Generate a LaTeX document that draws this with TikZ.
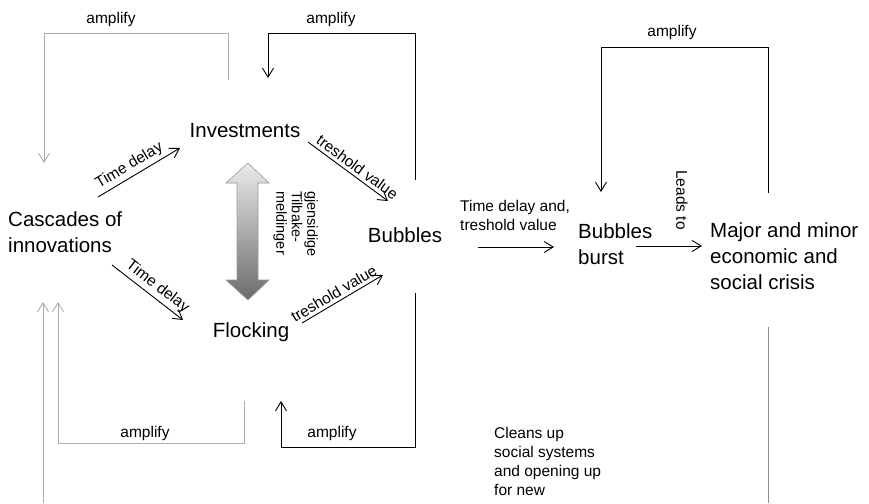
\documentclass[tikz,border=0pt]{standalone}
\usepackage{fontspec}
\setmainfont{Liberation Sans}
\usetikzlibrary{arrows.meta}
\definecolor{loopgray}{gray}{0.68}
\definecolor{endgray}{gray}{0.55}
\tikzset{
  flow/.style={-{Straight Barb[length=9pt,width=11pt]},line width=0.9pt},
  plain/.style={line width=0.9pt},
  big/.style={inner sep=0pt,font=\fontsize{20.5}{26}\selectfont},
  small/.style={inner sep=0pt,font=\fontsize{15.5}{19}\selectfont},
  lbl/.style={inner sep=3pt,font=\fontsize{15.5}{19}\selectfont},
}
\begin{document}
\begin{tikzpicture}[x=1pt,y=-1pt]
\useasboundingbox (0,0) rectangle (869,503);
% concepts
\node[big,anchor=north west,align=left] (casc) at (8,211) {Cascades of\\innovations};
\node[big,anchor=base] (inv) at (245,137) {Investments};
\node[big,anchor=base] (flock) at (251,337) {Flocking};
\node[big,anchor=base] (bub) at (405,242) {Bubbles};
\node[big,anchor=north west,align=left] (burst) at (578,223) {Bubbles\\burst};
\node[big,anchor=north west,align=left] (crisis) at (710,222) {Major and minor\\economic and\\social crisis};
% free texts
\node[small,anchor=north west,align=left] (delay) at (460,200) {Time delay and,\\treshold value};
\node[small,anchor=north west,align=left] (clean) at (494,427) {Cleans up\\social systems\\and opening up\\for new};
\node[small,anchor=north west,align=left,rotate=-90,font=\fontsize{14.5}{15.5}\selectfont] (mutual) at (318,191) {gjensidige\\Tilbake-\\meldinger};
\node[small,rotate=-90] (leads) at (682,200) {Leads to};
\foreach \n/\x/\y in {amp1/111/24,amp2/331/24,amp3/672/37,amp4/145/437,amp5/332/437}
  \node[small,anchor=base] (\n) at (\x,\y) {amplify};
% mutual feedback arrow
\shade[top color=black!8,bottom color=black!58,draw=black!40,line width=0.6pt]
  (248,163) -- (269,183) -- (258,183) -- (258,280) -- (269,280) -- (248,300)
  -- (226,280) -- (237,280) -- (237,183) -- (226,183) -- cycle;
% arrow ends
\coordinate (ci1) at (98,197);   \coordinate (ci2) at (180,148);
\coordinate (ib1) at (308,142);  \coordinate (ib2) at (388,201);
\coordinate (cf1) at (112,265);  \coordinate (cf2) at (183,320);
\coordinate (fb1) at (302,323);  \coordinate (fb2) at (383,275);
\coordinate (bb1) at (478,247);  \coordinate (bb2) at (554,247);
\coordinate (bc1) at (636,246);  \coordinate (bc2) at (702,246);
\draw[flow] (ci1) -- node[lbl,sloped,above,pos=0.45] {Time delay} (ci2);
\draw[flow] (ib1) -- node[lbl,sloped,above,pos=0.55] {treshold value} (ib2);
\draw[flow] (cf1) -- node[lbl,sloped,above,pos=0.55] {Time delay} (cf2);
\draw[flow] (fb1) -- node[lbl,sloped,above,pos=0.45] {treshold value} (fb2);
\draw[flow] (bb1) -- (bb2);
\draw[flow] (bc1) -- (bc2);
% amplify loops
\coordinate (l1a) at (228,80);  \coordinate (l1b) at (44,163);
\draw[flow,loopgray] (l1a) -- ++(0,-47) -| (l1b);
\coordinate (l2a) at (415,180); \coordinate (l2b) at (268,78);
\draw[flow] (l2a) -- ++(0,-147) -| (l2b);
\coordinate (l3a) at (768,193); \coordinate (l3b) at (601,192);
\draw[flow] (l3a) -- ++(0,-146) -| (l3b);
\coordinate (l4a) at (244,401); \coordinate (l4b) at (58,302);
\draw[flow,loopgray] (l4a) -- ++(0,42) -| (l4b);
\coordinate (l5a) at (415,293); \coordinate (l5b) at (281,401);
\draw[flow] (l5a) -- ++(0,154) -| (l5b);
\coordinate (l6a) at (43,503);  \coordinate (l6b) at (43,302);
\draw[flow,loopgray] (l6a) -- (l6b);
\coordinate (l7a) at (768,327); \coordinate (l7b) at (768,503);
\draw[plain,endgray] (l7a) -- (l7b);
\end{tikzpicture}
\end{document}
